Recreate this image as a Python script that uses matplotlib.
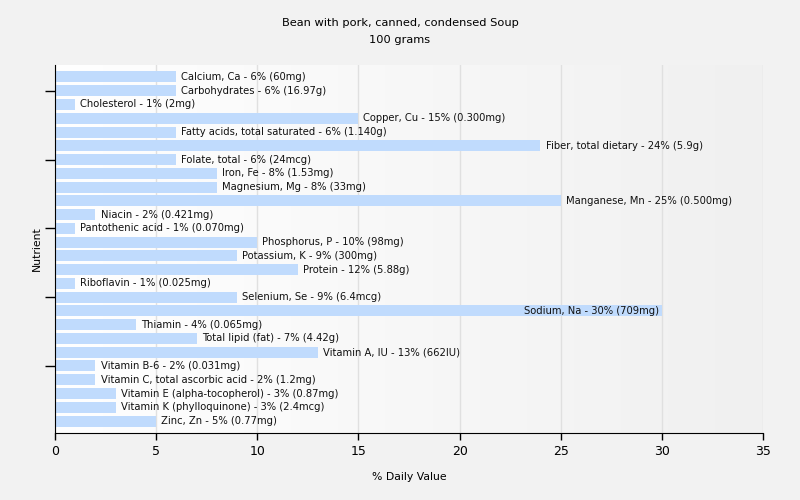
import matplotlib
matplotlib.use("Agg")
import matplotlib.pyplot as plt
import numpy as np
from matplotlib.colors import LinearSegmentedColormap

nutrients = ["Calcium, Ca", "Carbohydrates", "Cholesterol", "Copper, Cu",
             "Fatty acids, total saturated", "Fiber, total dietary", "Folate, total",
             "Iron, Fe", "Magnesium, Mg", "Manganese, Mn", "Niacin", "Pantothenic acid",
             "Phosphorus, P", "Potassium, K", "Protein", "Riboflavin", "Selenium, Se",
             "Sodium, Na", "Thiamin", "Total lipid (fat)", "Vitamin A, IU", "Vitamin B-6",
             "Vitamin C, total ascorbic acid", "Vitamin E (alpha-tocopherol)",
             "Vitamin K (phylloquinone)", "Zinc, Zn"]
values = [6, 6, 1, 15, 6, 24, 6, 8, 8, 25, 2, 1, 10, 9, 12, 1, 9, 30, 4, 7, 13, 2, 2, 3, 3, 5]
amounts = ["60mg", "16.97g", "2mg", "0.300mg", "1.140g", "5.9g", "24mcg", "1.53mg", "33mg",
           "0.500mg", "0.421mg", "0.070mg", "98mg", "300mg", "5.88g", "0.025mg", "6.4mcg",
           "709mg", "0.065mg", "4.42g", "662IU", "0.031mg", "1.2mg", "0.87mg", "2.4mcg", "0.77mg"]
xticks = [0, 5, 10, 15, 20, 25, 30, 35]

fig = plt.figure(figsize=(8, 5), dpi=100, facecolor="#f2f2f2")
ax = fig.add_axes([55/800, 1-433/500, (763-55)/800, (433-65)/500])
ax.set_facecolor("#f2f2f2")

n = len(nutrients)
pad = 0.87
ylo, yhi = n - 1 + pad, -pad

grad = np.linspace(0, 1, 256).reshape(1, -1)
cmap = LinearSegmentedColormap.from_list("g", ["#ffffff", "#f0f0f0"])
ax.imshow(grad, aspect="auto", cmap=cmap, extent=[0, 35, ylo, yhi], zorder=0)

y = np.arange(n)
ax.barh(y, values, height=0.8, color="#c0dbfd", zorder=2)
for i, (name, v, a) in enumerate(zip(nutrients, values, amounts)):
    txt = f"{name} - {v}% ({a})"
    if v >= 28:
        ax.text(v - 0.15, i, txt, ha="right", va="center", fontsize=7.2, color="#111111", zorder=3)
    else:
        ax.text(v + 0.25, i, txt, ha="left", va="center", fontsize=7.2, color="#111111", zorder=3)

ax.set_xlim(0, 35)
ax.set_ylim(ylo, yhi)
ax.set_xticks(xticks)
ax.set_xticklabels([str(t) for t in xticks], fontsize=9)
ax.set_yticks([1, 6, 11, 16, 21])
ax.set_yticklabels([])
ax.tick_params(axis="y", length=7, width=1, direction="out")
ax.tick_params(axis="x", length=5, width=1, direction="out")
ax.grid(axis="x", color="#e0e0e0", linewidth=1, zorder=1)
ax.set_axisbelow(True)
for s in ["top", "right"]:
    ax.spines[s].set_visible(False)
ax.spines["left"].set_color("black")
ax.spines["bottom"].set_color("black")

ax.set_xlabel("% Daily Value", fontsize=7.8)
ax.xaxis.set_label_coords(0.5, -(472 - 433) / 368, transform=ax.transAxes)
ax.set_ylabel("Nutrient", fontsize=7.8)
ax.yaxis.set_label_coords(-(55 - 42) / 708, 0.5, transform=ax.transAxes)
fig.text(0.5, 1-23/500, "Bean with pork, canned, condensed Soup", ha="center", va="center", fontsize=8.2)
fig.text(0.5, 1-40/500, "100 grams", ha="center", va="center", fontsize=8.2)

fig.savefig("out.png", dpi=100, facecolor=fig.get_facecolor())
